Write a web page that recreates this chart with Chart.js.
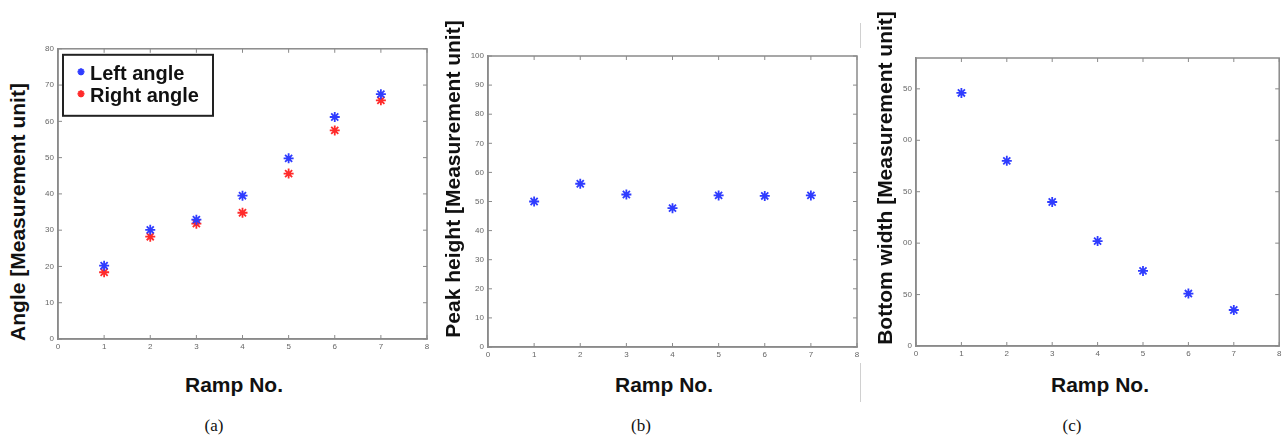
<!DOCTYPE html>
<html>
<head>
<meta charset="utf-8">
<script src="https://cdn.jsdelivr.net/npm/chart.js@4"></script>
<style>
  body { margin: 0; background: #fff; width: 1286px; height: 440px; position: relative; overflow: hidden; }
  .panel { position: absolute; }
  .ytitle, .xtitle { position: absolute; font: bold 21px "Liberation Sans", Arial, sans-serif; color: #111; white-space: nowrap; text-align: center; }
  .ytitle { width: 380px; height: 24px; line-height: 24px; transform: rotate(-90deg); }
  .xtitle { width: 160px; height: 24px; line-height: 24px; }
  .caption { position: absolute; width: 40px; text-align: center; font: 17px "Liberation Serif", "Times New Roman", serif; color: #111; }
  .sep { position: absolute; left: 860px; width: 1px; background: #d0d0d0; }
</style>
</head>
<body>
<div class="sep" style="top:23px;height:25px"></div>
<div class="sep" style="top:363px;height:39px"></div>

<div class="panel" style="left:30px;top:40px"><canvas id="chartA" width="405" height="320"></canvas></div>
<div class="panel" style="left:460px;top:40px"><canvas id="chartB" width="405" height="325"></canvas></div>
<div class="panel" style="left:885px;top:40px"><canvas id="chartC" width="401" height="325"></canvas></div>

<div class="ytitle" style="left:-172px;top:200px">Angle [Measurement unit]</div>
<div class="ytitle" style="left:263px;top:167px">Peak height [Measurement unit]</div>
<div class="ytitle" style="left:695px;top:166px">Bottom width [Measurement unit]</div>

<div class="xtitle" style="left:154px;top:373px">Ramp No.</div>
<div class="xtitle" style="left:584px;top:373px">Ramp No.</div>
<div class="xtitle" style="left:1020px;top:373px">Ramp No.</div>

<div class="caption" style="left:194px;top:416px">(a)</div>
<div class="caption" style="left:621px;top:416px">(b)</div>
<div class="caption" style="left:1052px;top:416px">(c)</div>

<script>
// values
const ramps = [1, 2, 3, 4, 5, 6, 7];
const leftAngle = [20.2, 30.1, 32.9, 39.5, 49.8, 61.2, 67.5];
const rightAngle = [18.4, 28.2, 31.8, 34.8, 45.6, 57.5, 65.8];
const peakHeight = [50.0, 56.1, 52.4, 47.7, 52.1, 51.9, 52.1];
const bottomWidth = [246, 180, 140, 102, 73, 51, 35];

const xTicks = [0, 1, 2, 3, 4, 5, 6, 7, 8];
const angleTicks = [0, 10, 20, 30, 40, 50, 60, 70, 80];
const heightTicks = [0, 10, 20, 30, 40, 50, 60, 70, 80, 90, 100];
const widthTicks = [0, 50, 100, 150, 200, 250];

const BLUE = '#2f3cff';
const RED = '#ff2b2b';
const AXIS = '#8a8a8a';

function toPoints(ys) {
  return ramps.map((x, i) => ({ x: x, y: ys[i] }));
}

// matlab-style frame with inward ticks on every side
const framePlugin = {
  id: 'frame',
  afterDraw(chart) {
    const ctx = chart.ctx;
    const a = chart.chartArea;
    const xs = chart.scales.x, ys = chart.scales.y;
    ctx.save();
    ctx.strokeStyle = AXIS;
    ctx.lineWidth = 1.5;
    ctx.strokeRect(a.left, a.top, a.right - a.left, a.bottom - a.top);
    ctx.lineWidth = 1;
    ctx.beginPath();
    xs.ticks.forEach(t => {
      const px = xs.getPixelForValue(t.value);
      ctx.moveTo(px, a.bottom); ctx.lineTo(px, a.bottom - 4);
      ctx.moveTo(px, a.top); ctx.lineTo(px, a.top + 4);
    });
    ys.ticks.forEach(t => {
      const py = ys.getPixelForValue(t.value);
      ctx.moveTo(a.left, py); ctx.lineTo(a.left + 4, py);
      ctx.moveTo(a.right, py); ctx.lineTo(a.right - 4, py);
    });
    ctx.stroke();
    ctx.restore();
  }
};

// boxed legend in the upper-left corner (panel a only)
const boxLegend = {
  id: 'boxLegend',
  afterDraw(chart, args, opts) {
    if (!opts.show) return;
    const ctx = chart.ctx;
    const a = chart.chartArea;
    const bx = a.left + 5, by = a.top + 6, bw = 150, bh = 61;
    ctx.save();
    ctx.fillStyle = '#fff';
    ctx.fillRect(bx, by, bw, bh);
    ctx.strokeStyle = '#222';
    ctx.lineWidth = 2;
    ctx.strokeRect(bx, by, bw, bh);
    ctx.font = 'bold 20px "Liberation Sans", Arial, sans-serif';
    ctx.textBaseline = 'middle';
    chart.data.datasets.forEach((ds, i) => {
      const cy = by + 19 + i * 22;
      ctx.strokeStyle = ds.borderColor;
      ctx.fillStyle = ds.backgroundColor;
      Chart.helpers.drawPoint(ctx, { pointStyle: 'star', radius: 3.5, borderWidth: 1.6 }, bx + 18, cy - 2);
      ctx.fillStyle = '#111';
      ctx.fillText(ds.label, bx + 27, cy + 1);
    });
    ctx.restore();
  }
};

function makePanel(id, datasets, yMin, yMax, yTicks, layout, showLegend, yLabel) {
  const ctx = document.getElementById(id);
  return new Chart(ctx, {
    type: 'scatter',
    data: { datasets: datasets },
    options: {
      responsive: false,
      animation: false,
      layout: { padding: { top: layout.top, right: layout.right, left: 0, bottom: 0 } },
      plugins: {
        legend: { display: false },
        tooltip: { enabled: false },
        boxLegend: { show: showLegend }
      },
      elements: {
        point: { pointStyle: 'star', radius: 5, borderWidth: 1.8 }
      },
      scales: {
        x: {
          type: 'linear', min: 0, max: 8,
          afterBuildTicks: s => { s.ticks = xTicks.map(v => ({ value: v })); },
          afterFit: s => { s.height = layout.xh; },
          grid: { drawOnChartArea: false, drawTicks: false },
          border: { color: AXIS, width: 1.5 },
          ticks: { padding: 3, color: '#666', font: { size: 8, family: 'Liberation Sans' }, maxRotation: 0 }
        },
        y: {
          type: 'linear', min: yMin, max: yMax,
          afterBuildTicks: s => { s.ticks = yTicks.map(v => ({ value: v })); },
          afterFit: s => { s.width = layout.yw; },
          grid: { drawOnChartArea: false, drawTicks: false },
          border: { color: AXIS, width: 1.5 },
          ticks: { padding: 4, color: '#666', font: { size: 8, family: 'Liberation Sans' }, callback: yLabel || (v => v) }
        }
      }
    },
    plugins: [framePlugin, boxLegend]
  });
}

// panel (a)
makePanel('chartA', [
  { label: 'Left angle', data: toPoints(leftAngle), borderColor: BLUE, backgroundColor: BLUE },
  { label: 'Right angle', data: toPoints(rightAngle), borderColor: RED, backgroundColor: RED }
], 0, 80, angleTicks, { top: 7, right: 8, xh: 21, yw: 28 }, true);

// panel (b)
makePanel('chartB', [
  { label: 'Peak height', data: toPoints(peakHeight), borderColor: BLUE, backgroundColor: BLUE }
], 0, 100, heightTicks, { top: 16, right: 8, xh: 18, yw: 28 }, false);

// panel (c) - leading digit of the tick labels is hidden behind the axis title in the source
makePanel('chartC', [
  { label: 'Bottom width', data: toPoints(bottomWidth), borderColor: BLUE, backgroundColor: BLUE }
], 0, 280, widthTicks, { top: 18, right: 5, xh: 19, yw: 31 }, false, v => String(v).slice(-2));
</script>
</body>
</html>
